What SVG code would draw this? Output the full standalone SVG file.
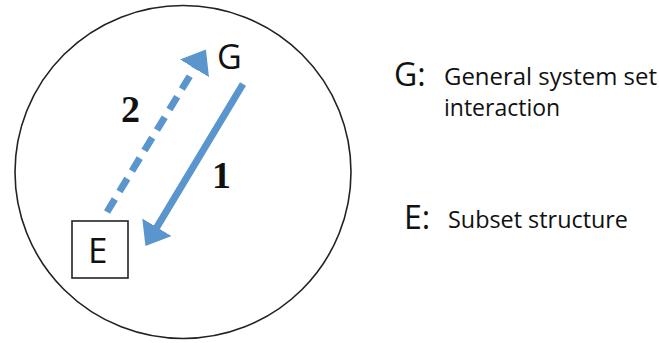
<svg xmlns="http://www.w3.org/2000/svg" width="659" height="343" viewBox="0 0 659 343">
  <style>
    .sans { font-family: "Open Sans", "Noto Sans", "Liberation Sans", sans-serif; fill: #111; }
    .num { font-family: "Liberation Serif", "Times New Roman", serif; font-weight: bold; font-size: 38px; fill: #111; }
    .conn { stroke: #5b95cd; stroke-width: 7; fill: none; }
  </style>
  <defs>
    <marker id="head" markerUnits="userSpaceOnUse" viewBox="0 0 22 34" markerWidth="22" markerHeight="34" refX="1" refY="17" orient="auto">
      <path d="M0,0 L22,17 L0,34 z" fill="#5b95cd"/>
    </marker>
  </defs>
  <rect width="659" height="343" fill="#fff"/>
  <g id="boundary">
    <ellipse cx="183" cy="172" rx="168" ry="166.5" fill="none" stroke="#222" stroke-width="1.6"/>
  </g>
  <g id="connectors">
    <line class="conn" x1="243" y1="84" x2="156.3" y2="228.1" marker-end="url(#head)"/>
    <line class="conn" x1="107" y1="212" x2="195" y2="67.5" stroke-dasharray="15 9" marker-end="url(#head)"/>
    <text class="num" x="121" y="122">2</text>
    <text class="num" x="212" y="188">1</text>
  </g>
  <g id="node-G">
    <text class="sans" x="217" y="69" font-size="34">G</text>
  </g>
  <g id="node-E">
    <rect x="72" y="221" width="56" height="57" fill="#fff" stroke="#222" stroke-width="1.6"/>
    <text class="sans" x="88" y="263" font-size="35">E</text>
  </g>
  <g id="legend">
    <text class="sans" x="394" y="86" font-size="32">G:</text>
    <text class="sans" x="444" y="85" font-size="23" textLength="213" lengthAdjust="spacingAndGlyphs">General system set</text>
    <text class="sans" x="444" y="116" font-size="23">interaction</text>
    <text class="sans" x="404" y="229" font-size="32">E:</text>
    <text class="sans" x="448" y="228" font-size="23" textLength="180" lengthAdjust="spacingAndGlyphs">Subset structure</text>
  </g>
</svg>
